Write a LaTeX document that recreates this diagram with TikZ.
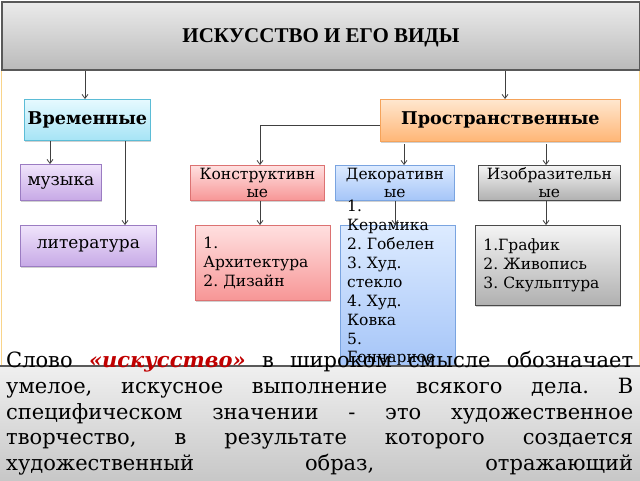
\documentclass[tikz,border=0pt]{standalone}
\usepackage{fontspec}
\setmainfont{DejaVu Serif}
\newfontfamily\titlefont{Liberation Serif}
\usetikzlibrary{arrows.meta,shadows}
\definecolor{linec}{HTML}{404040}
\definecolor{framec}{HTML}{F9D48A}
\definecolor{cyanT}{HTML}{E6F9FF}\definecolor{cyanB}{HTML}{A6E4F5}\definecolor{cyanD}{HTML}{5BBCD6}
\definecolor{oraT}{HTML}{FFE7CF}\definecolor{oraB}{HTML}{FFB676}\definecolor{oraD}{HTML}{F5A35A}
\definecolor{purT}{HTML}{F0E4FB}\definecolor{purB}{HTML}{C7A9E6}\definecolor{purD}{HTML}{9B7CC2}
\definecolor{redT}{HTML}{FFE0E0}\definecolor{redB}{HTML}{F79696}\definecolor{redD}{HTML}{DC7272}
\definecolor{bluT}{HTML}{DDEBFF}\definecolor{bluB}{HTML}{A5C5F8}\definecolor{bluD}{HTML}{7AA4E0}
\definecolor{gryT}{HTML}{F4F4F4}\definecolor{gryB}{HTML}{B0B0B0}\definecolor{gryD}{HTML}{4A4A4A}
\definecolor{wordred}{HTML}{C00000}
\begin{document}
\frenchspacing
\begin{tikzpicture}[x=1pt,y=-1pt,
  conn/.style={draw=linec, line width=0.9pt},
  arr/.style={conn, -{Straight Barb[length=4pt,width=6pt,line width=0.8pt]}},
  boxbase/.style={draw, line width=0.8pt, inner sep=0pt, anchor=north west,
    drop shadow={shadow xshift=0.8pt, shadow yshift=-1.2pt, opacity=0.3, fill=black!60}},
  cyanbox/.style={boxbase, draw=cyanD, top color=cyanT, bottom color=cyanB},
  orabox/.style={boxbase, draw=oraD, top color=oraT, bottom color=oraB},
  purbox/.style={boxbase, draw=purD, top color=purT, bottom color=purB},
  redbox/.style={boxbase, draw=redD, top color=redT, bottom color=redB},
  blubox/.style={boxbase, draw=bluD, top color=bluT, bottom color=bluB},
  grybox/.style={boxbase, draw=gryD, top color=gryT, bottom color=gryB},
  headtext/.style={font=\fontsize{17.6}{20}\selectfont\bfseries},
  boxtext/.style={font=\fontsize{15.5}{18}\selectfont, align=center},
  listtext/.style={font=\fontsize{15.5}{18.9}\selectfont, align=left}
]
\useasboundingbox (0,0) rectangle (640,480);
\fill[white] (0,0) rectangle (640,480);
% frame lines
\draw[framec, line width=1pt] (1,70) -- (1,365);
\draw[framec, line width=1pt] (639,70) -- (639,365);
% title
\node[anchor=north west, draw=black!65, line width=2pt, top color=black!8, bottom color=black!27,
  minimum width=638pt, minimum height=68pt, inner sep=0pt, text depth=-3pt,
  font=\titlefont\fontsize{21}{24}\selectfont\bfseries] (tit) at (1,1) {ИСКУССТВО И ЕГО ВИДЫ};
% level 1
\node[cyanbox, minimum width=126pt, minimum height=41pt, headtext] (vr) at (24,99) {Временные};
\node[orabox, minimum width=240pt, minimum height=42pt, headtext] (pr) at (380,99) {Пространственные};
% level 2
\node[purbox, minimum width=81pt, minimum height=36pt, font=\fontsize{17}{20}\selectfont] (mus) at (20,164) {музыка};
\node[purbox, minimum width=136pt, minimum height=41pt, font=\fontsize{17}{20}\selectfont] (lit) at (20,225) {литература};
\node[redbox, minimum width=134pt, minimum height=35pt, boxtext] (kon) at (190,165) {Конструктивн\\ые};
\node[blubox, minimum width=119pt, minimum height=35pt, boxtext] (dek) at (335,165) {Декоративн\\ые};
\node[grybox, minimum width=142pt, minimum height=35pt, boxtext] (izo) at (478,165) {Изобразительн\\ые};
% level 3
\node[redbox, minimum width=135pt, minimum height=75pt, listtext, text width=119pt, inner xsep=8pt] (konl) at (195,225) {1.\\Архитектура\\2. Дизайн};
\node[blubox, minimum width=115pt, minimum height=140pt] (dekl) at (340,225) {};
\node[listtext, anchor=north west, inner sep=0pt] (dekt) at (347,200) {1.\\Керамика\\2. Гобелен\\3. Худ.\\стекло\\4. Худ.\\Ковка\\5.\\Гончарное};
\node[grybox, minimum width=145pt, minimum height=80pt, listtext, text width=129pt, inner xsep=8pt] (izol) at (475,225) {1.График\\2. Живопись\\3. Скульптура};
% x positions of connectors
\coordinate (x50) at (50,0);
\coordinate (x85) at (85,0);
\coordinate (x125) at (125,0);
\coordinate (x260) at (260,0);
\coordinate (x395) at (395,0);
\coordinate (x404) at (404,0);
\coordinate (x505) at (505,0);
\coordinate (x546) at (546,0);
\coordinate (y125) at (0,125);
\coordinate (y144) at (0,144);
% connectors
\draw[arr] (tit.south -| x85) -- (vr.north -| x85);
\draw[arr] (tit.south -| x505) -- (pr.north -| x505);
\draw[arr] (vr.south -| x50) -- (mus.north -| x50);
\draw[arr] (vr.south -| x125) -- (lit.north -| x125);
\draw[arr] (pr.west |- y125) -| (kon.north -| x260);
\draw[arr] (x404 |- y144) -- (dek.north -| x404);
\draw[arr] (x546 |- y144) -- (izo.north -| x546);
\draw[arr] (kon.south -| x260) -- (konl.north -| x260);
\draw[arr] (dek.south -| x395) -- (dekl.north -| x395);
\draw[arr] (izo.south -| x546) -- (izol.north -| x546);
% bottom text box
\node[anchor=north west, draw=black!65, line width=1.5pt, top color=black!6, bottom color=black!24,
  minimum width=644pt, minimum height=130pt, inner sep=0pt] (bot) at (-2,365) {};
\node[anchor=north west, inner sep=0pt, text width=627pt, align=justify,
  font=\fontsize{21}{25.8}\selectfont] (txt) at (6,351)
{\hbadness=10000\frenchspacing Слово {\color{wordred}\bfseries\itshape «искусство»} в широком смысле обозначает\linebreak
умелое, искусное выполнение всякого дела. В\linebreak
специфическом значении - это художественное\linebreak
творчество, в результате которого создается\linebreak
\hbox to\linewidth{художественный\hfill образ,\hfill отражающий}};
\end{tikzpicture}
\end{document}
